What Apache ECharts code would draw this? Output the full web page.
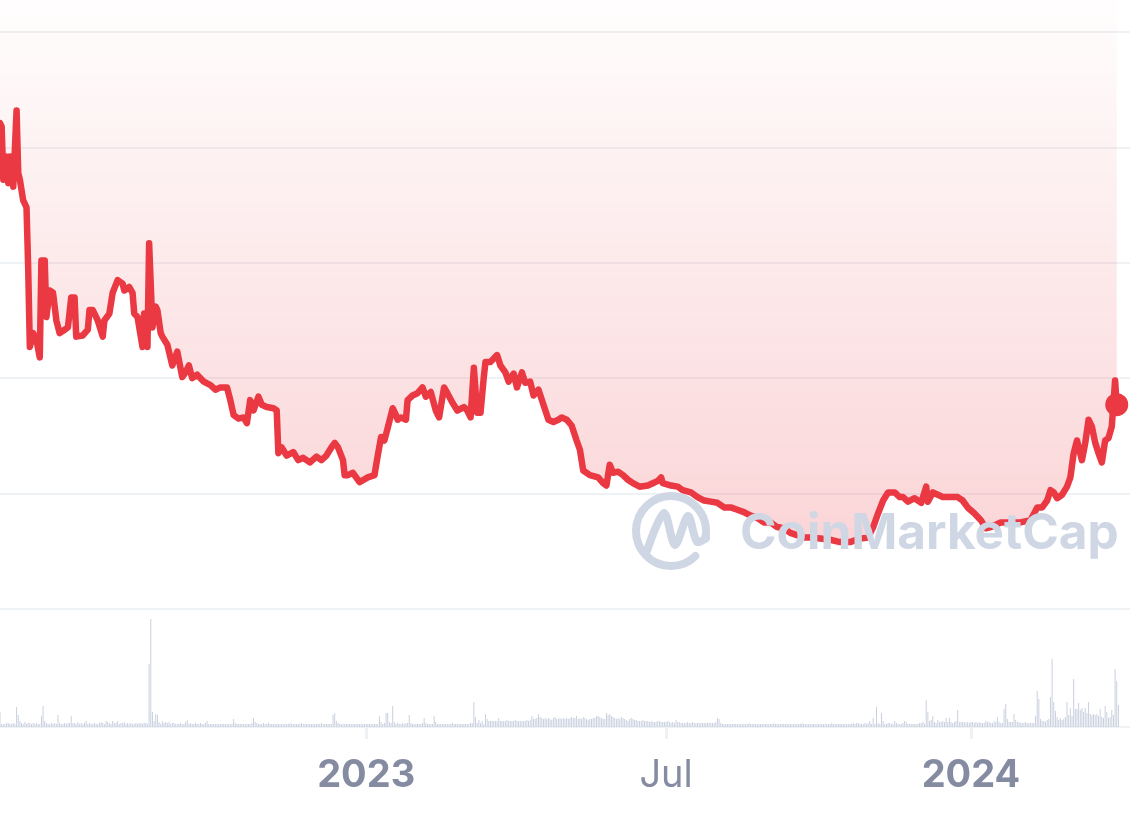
<!DOCTYPE html>
<html>
<head>
<meta charset="utf-8">
<title>Price chart</title>
<script src="https://cdn.jsdelivr.net/npm/echarts@6/dist/echarts.min.js"></script>
<style>
  html, body { margin: 0; padding: 0; background: #fff; }
  #chart { width: 1130px; height: 819px; }
</style>
</head>
<body>
<div id="chart"></div>
<script>
// price line (arbitrary units: gridlines every 10)
const priceDates = [
  '2022-05-25','2022-05-26','2022-05-27','2022-05-29','2022-05-30','2022-05-31','2022-06-02','2022-06-04','2022-06-05','2022-06-06',
  '2022-06-08','2022-06-10','2022-06-11','2022-06-12','2022-06-14','2022-06-16','2022-06-18','2022-06-19','2022-06-21','2022-06-22',
  '2022-06-24','2022-06-26','2022-06-28','2022-06-30','2022-07-03','2022-07-05','2022-07-07','2022-07-09','2022-07-10','2022-07-14',
  '2022-07-17','2022-07-18','2022-07-20','2022-07-23','2022-07-26','2022-07-27','2022-07-30','2022-08-01','2022-08-04','2022-08-07',
  '2022-08-08','2022-08-11','2022-08-13','2022-08-14','2022-08-16','2022-08-19','2022-08-20','2022-08-22','2022-08-23','2022-08-25',
  '2022-08-27','2022-08-28','2022-08-30','2022-08-31','2022-09-03','2022-09-06','2022-09-09','2022-09-12','2022-09-14','2022-09-16',
  '2022-09-18','2022-09-21','2022-09-25','2022-09-29','2022-10-02','2022-10-05','2022-10-09','2022-10-11','2022-10-13','2022-10-16',
  '2022-10-19','2022-10-21','2022-10-23','2022-10-25','2022-10-28','2022-10-30','2022-11-02','2022-11-06','2022-11-08','2022-11-09',
  '2022-11-11','2022-11-14','2022-11-18','2022-11-21','2022-11-24','2022-11-28','2022-12-02','2022-12-05','2022-12-08','2022-12-11',
  '2022-12-13','2022-12-15','2022-12-18','2022-12-19','2022-12-21','2022-12-24','2022-12-28','2023-01-02','2023-01-06','2023-01-08',
  '2023-01-10','2023-01-12','2023-01-14','2023-01-17','2023-01-19','2023-01-20','2023-01-22','2023-01-25','2023-01-26','2023-01-29',
  '2023-02-01','2023-02-04','2023-02-06','2023-02-09','2023-02-12','2023-02-14','2023-02-17','2023-02-19','2023-02-22','2023-02-25',
  '2023-03-01','2023-03-03','2023-03-05','2023-03-07','2023-03-09','2023-03-11','2023-03-13','2023-03-14','2023-03-17','2023-03-21',
  '2023-03-23','2023-03-26','2023-03-28','2023-03-31','2023-04-02','2023-04-05','2023-04-07','2023-04-10','2023-04-12','2023-04-15',
  '2023-04-18','2023-04-21','2023-04-24','2023-04-27','2023-04-29','2023-05-02','2023-05-05','2023-05-08','2023-05-10','2023-05-12',
  '2023-05-16','2023-05-21','2023-05-24','2023-05-26','2023-05-28','2023-05-30','2023-06-02','2023-06-05','2023-06-08','2023-06-11',
  '2023-06-15','2023-06-20','2023-06-23','2023-06-26','2023-06-28','2023-06-29','2023-07-04','2023-07-08','2023-07-11','2023-07-16',
  '2023-07-20','2023-07-24','2023-07-28','2023-08-01','2023-08-05','2023-08-09','2023-08-13','2023-08-17','2023-08-21','2023-08-25',
  '2023-08-29','2023-09-02','2023-09-06','2023-09-10','2023-09-14','2023-09-18','2023-09-22','2023-09-26','2023-10-02','2023-10-08',
  '2023-10-14','2023-10-20','2023-10-26','2023-10-31','2023-11-03','2023-11-06','2023-11-09','2023-11-12','2023-11-16','2023-11-19',
  '2023-11-21','2023-11-24','2023-11-28','2023-12-02','2023-12-05','2023-12-06','2023-12-09','2023-12-12','2023-12-15','2023-12-20',
  '2023-12-24','2023-12-27','2023-12-30','2024-01-03','2024-01-07','2024-01-10','2024-01-13','2024-01-19','2024-01-25','2024-01-31',
  '2024-02-06','2024-02-10','2024-02-13','2024-02-16','2024-02-18','2024-02-20','2024-02-22','2024-02-25','2024-02-28','2024-03-01',
  '2024-03-03','2024-03-05','2024-03-08','2024-03-10','2024-03-12','2024-03-14','2024-03-16','2024-03-18','2024-03-20','2024-03-22',
  '2024-03-24','2024-03-26','2024-03-28','2024-03-29'
];
const priceValues = [
  42.1,41.8,37.2,39.2,36.9,39.2,36.6,43.2,37.8,37.2,
  35.4,34.8,29.6,22.7,23.9,23.3,21.8,30.2,30.2,25.3,
  27.6,27.4,25.0,23.9,24.2,24.4,27.0,27.0,23.6,23.7,
  24.2,25.9,25.9,25.0,23.6,25.0,25.6,27.4,28.5,28.2,
  27.6,27.9,27.4,25.6,25.3,22.7,25.6,22.7,31.7,24.4,
  26.2,25.9,23.9,23.6,22.9,21.1,22.3,20.1,20.5,21.1,
  20.0,20.3,19.7,19.4,19.0,19.2,19.2,18.1,16.8,16.5,
  16.6,16.1,18.1,17.2,18.4,17.7,17.5,17.4,17.2,13.5,
  14.0,13.3,13.6,12.9,13.1,12.7,13.2,12.9,13.3,14.0,
  14.4,14.0,12.9,11.6,11.6,11.8,11.0,11.4,11.6,13.3,
  14.9,14.6,15.7,17.4,16.8,16.4,16.6,16.4,18.1,18.5,
  18.7,19.2,18.4,18.8,17.2,16.6,19.2,18.7,17.9,17.2,
  17.5,17.2,16.6,20.9,17.0,17.0,20.1,21.4,21.4,22.0,
  21.1,20.5,19.7,20.4,19.2,20.5,19.6,19.7,18.5,19.0,
  17.7,16.4,16.2,16.4,16.6,16.4,15.9,14.6,13.8,12.0,
  11.6,11.4,10.9,10.7,12.5,11.8,11.9,11.6,11.2,10.9,
  10.6,10.7,10.9,11.1,11.4,10.9,10.7,10.6,10.3,10.1,
  9.7,9.4,9.3,9.2,8.8,8.8,8.6,8.4,8.1,7.9,
  7.5,7.5,7.1,7.0,6.6,6.4,6.2,6.2,6.1,6.0,
  5.8,5.8,6.1,6.2,7.1,8.3,9.4,10.1,10.1,9.7,
  9.7,9.3,9.6,9.2,10.6,9.3,10.1,9.9,9.7,9.7,
  9.7,9.4,8.8,8.3,7.7,7.0,7.1,7.5,7.5,7.5,
  7.7,8.8,8.8,9.4,10.3,10.1,9.6,9.9,10.6,11.4,
  13.5,14.6,12.9,14.4,16.4,15.8,14.4,13.5,12.7,14.6,
  14.8,15.8,19.8,17.7
];

// daily volume bars, first bar on volumeStart
const volumeStart = '2022-05-25';
const volumeValues = [
  15,3,3,3,4,4,3,3,4,3, 20,12,6,4,3,5,3,4,4,3, 4,3,4,3,3,11,21,6,4,3, 3,4,3,4,3,12,4,3,3,4,
  3,4,4,11,4,4,3,5,3,4, 3,4,6,3,4,3,3,4,3,3, 4,5,4,3,6,5,4,3,6,4, 4,6,3,4,4,5,3,4,3,4,
  3,3,4,3,4,4,3,4,4,3, 63,108,15,6,13,12,5,3,6,4, 5,4,5,3,4,4,3,3,3,4, 3,3,5,7,3,4,3,3,4,3,
  3,4,3,3,4,6,3,3,3,3, 3,3,3,3,3,3,3,3,3,3, 3,8,4,3,3,3,3,3,3,3, 3,3,4,9,5,4,3,3,3,4,
  3,3,4,3,3,3,3,3,3,3, 3,3,3,3,3,4,3,3,3,3, 3,3,4,3,3,3,3,3,3,3, 3,3,3,3,4,3,3,3,3,3,
  3,12,14,6,4,3,3,3,3,3, 3,3,3,3,3,3,3,3,3,3, 3,3,3,3,3,3,3,3,3,11, 5,3,4,14,14,5,4,21,5,3,
  4,3,3,4,3,4,4,12,4,3, 3,3,3,3,3,4,9,4,3,3, 3,3,11,5,3,3,3,3,3,3, 3,3,3,4,3,3,3,3,3,3,
  3,3,3,3,4,4,25,10,4,7, 4,6,3,13,8,6,6,6,6,6, 6,9,6,6,6,6,7,6,6,6, 6,7,6,6,6,6,6,6,7,6,
  7,11,8,8,9,13,10,9,8,9, 8,9,8,7,9,10,8,8,9,8, 9,8,9,8,9,10,9,9,11,8, 9,8,10,9,8,7,8,8,9,9,
  11,11,10,9,8,8,14,12,13,11, 10,9,8,9,8,10,9,8,7,6, 8,9,8,7,7,6,6,6,7,6, 6,6,5,6,5,5,5,6,6,5,
  5,5,5,6,5,4,5,4,7,5, 5,4,4,4,4,5,4,4,5,4, 4,4,4,4,4,4,4,4,4,4, 4,4,5,9,8,4,3,3,3,3,
  3,3,3,3,3,3,3,3,3,3, 3,3,4,3,3,3,3,3,3,3, 3,3,3,3,3,3,3,4,3,3, 3,3,3,3,3,3,3,3,3,3,
  3,3,3,3,4,3,3,3,3,3, 3,3,3,3,3,3,3,3,3,3, 3,3,4,3,3,3,3,3,3,3, 3,3,3,3,3,4,3,4,4,3,
  3,3,4,3,4,6,3,9,3,20, 4,3,14,6,3,3,4,4,3,3, 6,4,3,3,3,4,6,5,3,3, 3,3,3,3,3,4,4,5,3,27,
  15,6,7,11,5,4,7,5,5,6, 5,9,5,9,5,4,5,6,17,5, 5,5,5,4,5,4,5,5,4,5, 4,5,4,4,4,6,5,5,4,4,
  6,5,10,5,4,4,18,23,8,5, 5,5,13,7,5,5,4,4,4,5, 4,4,4,4,4,11,36,28,8,6, 6,5,7,8,30,68,25,16,10,7,
  9,7,8,10,25,12,19,11,48,18, 18,24,17,19,15,19,14,25,13,12, 13,12,13,11,18,10,9,21,15,9,
  10,17,12,58,46,22
];

// x axis ticks
const tickDates = ['2023-01-01', '2023-07-01', '2024-01-01'];
const tickLabels = ['2023', 'Jul', '2024'];

const RED = '#ea3943';
const GRID_LINE = '#eff2f5';
const LABEL = '#858ca2';
const MARK = '#cfd6e4';
const DAY = 24 * 3600 * 1000;

// plain dates -> timestamps (local time)
const toTime = s => {
  const [y, m, d] = s.split('-').map(Number);
  return new Date(y, m - 1, d).getTime();
};

const xMin = toTime('2022-05-25');
const xMax = toTime('2024-04-06');

const priceData = priceDates.map((d, i) => [toTime(d), priceValues[i]]);
const volumeData = volumeValues.map((v, i) => [toTime(volumeStart) + i * DAY, v]);
const lastPoint = priceData[priceData.length - 1];
const tickTimes = tickDates.map(toTime);

const chart = echarts.init(document.getElementById('chart'));

const option = {
  animation: false,
  grid: [
    { left: 0, right: 0, top: 0, height: 609 },
    { left: 0, right: 0, top: 610, height: 117 }
  ],
  xAxis: [
    {
      type: 'value', gridIndex: 0, min: xMin, max: xMax,
      axisLine: { show: false }, axisTick: { show: false },
      axisLabel: { show: false }, splitLine: { show: false }
    },
    {
      type: 'value', gridIndex: 1, min: xMin, max: xMax,
      axisLine: { show: true, lineStyle: { color: GRID_LINE, width: 2 } },
      axisTick: {
        show: true, customValues: tickTimes, length: 12,
        lineStyle: { color: GRID_LINE, width: 3 }
      },
      axisLabel: {
        show: true,
        customValues: tickTimes,
        margin: 30,
        formatter: function (value) {
          const i = tickTimes.indexOf(value);
          const text = i >= 0 ? tickLabels[i] : '';
          return /^\d+$/.test(text) ? '{y|' + text + '}' : '{m|' + text + '}';
        },
        rich: {
          y: { fontFamily: 'Inter, sans-serif', fontSize: 38, fontWeight: 'bold', color: LABEL },
          m: { fontFamily: 'Inter, sans-serif', fontSize: 38, fontWeight: 'normal', color: LABEL }
        }
      },
      splitLine: { show: false }
    }
  ],
  yAxis: [
    {
      type: 'value', gridIndex: 0, min: 0, max: 52.77, interval: 10,
      axisLine: { show: false }, axisTick: { show: false }, axisLabel: { show: false },
      splitLine: { show: true, showMaxLine: false, lineStyle: { color: GRID_LINE, width: 2 } }
    },
    {
      type: 'value', gridIndex: 1, min: 0, max: 117,
      axisLine: { show: false }, axisTick: { show: false }, axisLabel: { show: false },
      splitLine: { show: false }
    }
  ],
  series: [
    {
      name: 'Price',
      type: 'line',
      xAxisIndex: 0,
      yAxisIndex: 0,
      data: priceData,
      showSymbol: false,
      lineStyle: { color: RED, width: 6.5, join: 'round', cap: 'round' },
      areaStyle: {
        origin: 'end',
        color: new echarts.graphic.LinearGradient(0, 0, 0, 1, [
          { offset: 0, color: 'rgba(234, 57, 67, 0.01)' },
          { offset: 1, color: 'rgba(234, 57, 67, 0.30)' }
        ])
      },
      z: 2
    },
    {
      name: 'Last',
      type: 'scatter',
      xAxisIndex: 0,
      yAxisIndex: 0,
      data: [lastPoint],
      symbolSize: 23,
      itemStyle: { color: RED, opacity: 1 },
      z: 3
    },
    {
      name: 'Volume',
      type: 'bar',
      xAxisIndex: 1,
      yAxisIndex: 1,
      data: volumeData,
      barWidth: 1,
      itemStyle: { color: '#c9d0df' }
    }
  ],
  // CoinMarketCap watermark, on top of the line
  graphic: [
    {
      type: 'arc', zlevel: 1, z: 100,
      shape: { cx: 671, cy: 531, r: 35, startAngle: 0.8, endAngle: 6.5, clockwise: true },
      style: { stroke: MARK, lineWidth: 8, lineCap: 'round', fill: null }
    },
    {
      type: 'polyline', zlevel: 1, z: 100,
      shape: { points: [[647, 551], [664, 513], [675, 545], [688, 516], [697, 542], [706, 538]], smooth: 0.3 },
      style: { stroke: MARK, lineWidth: 8, lineCap: 'round', lineJoin: 'round', fill: null }
    },
    {
      type: 'text', zlevel: 1, z: 100,
      x: 740, y: 534,
      style: {
        text: 'CoinMarketCap',
        font: 'bold 49.5px Inter, sans-serif',
        fill: MARK,
        verticalAlign: 'middle'
      }
    }
  ]
};

chart.setOption(option);
</script>
</body>
</html>
